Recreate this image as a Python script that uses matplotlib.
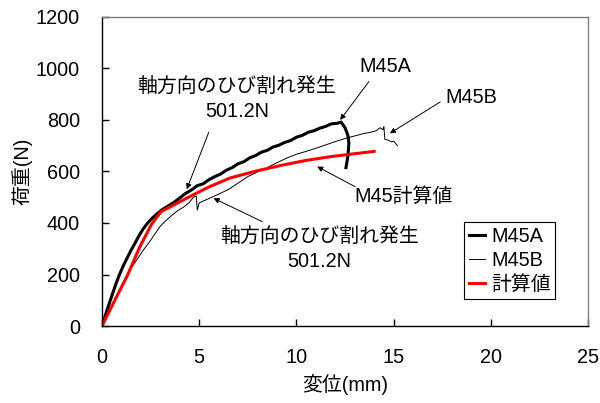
import matplotlib
matplotlib.use('Agg')
import matplotlib.pyplot as plt

plt.rcParams['font.family'] = ['Liberation Sans', 'Noto Sans CJK JP']

# M45A (thick black)
m45a_x = [0, 0.2, 0.45, 0.7, 0.9, 1.1, 1.3, 1.5, 1.7, 1.9, 2.1, 2.35, 2.6, 2.85, 3.1,
          3.4, 3.7, 4.0, 4.3, 4.6, 4.9, 5.2, 5.5, 5.8, 6.1, 6.4, 6.7, 7.0, 7.3, 7.6,
          7.9, 8.2, 8.5, 8.8, 9.1, 9.4, 9.7, 10.0, 10.3, 10.6, 10.9, 11.2, 11.5, 11.8,
          12.1, 12.3, 12.5, 12.65, 12.7, 12.65, 12.55]
m45a_y = [0, 48, 105, 160, 200, 235, 265, 295, 322, 350, 375, 400, 420, 437, 452,
          466, 480, 497, 515, 528, 545, 552, 568, 580, 590, 605, 615, 630, 638, 653,
          662, 675, 682, 695, 702, 713, 720, 733, 740, 752, 758, 768, 775, 785,
          787, 792, 770, 740, 710, 660, 615]

# M45B (thin black)
m45b_x = [0, 0.3, 0.6, 0.9, 1.2, 1.5, 1.8, 2.1, 2.4, 2.7, 3.0, 3.3, 3.6, 3.9, 4.2,
          4.5, 4.7, 4.85, 4.9, 5.0, 5.5, 6.0, 6.5, 7.0, 7.5, 8.0, 8.5, 9.0, 9.5, 10.0,
          10.5, 11.0, 11.5, 12.0, 12.5, 13.0, 13.5, 13.8, 14.1, 14.3, 14.45, 14.5,
          14.55, 14.7, 14.9, 15.0, 15.2]
m45b_y = [0, 45, 92, 140, 185, 225, 258, 292, 322, 355, 388, 410, 430, 448, 462,
          480, 500, 505, 450, 478, 495, 512, 530, 555, 580, 598, 615, 634, 652, 667,
          678, 690, 703, 716, 728, 738, 748, 752, 758, 770, 762, 775,
          725, 722, 715, 718, 700]

# calculated values (red)
calc_x = [0, 0.66, 1.3, 1.95, 2.55, 3.05, 3.5, 4.5, 5.5, 6.6, 8.0, 9.3, 10.5, 11.8, 13.0, 14.0]
calc_y = [0, 100, 195, 308, 395, 445, 462, 502, 540, 575, 603, 625, 643, 658, 669, 678]

x_ticks = [0, 5, 10, 15, 20, 25]
y_ticks = [0, 200, 400, 600, 800, 1000, 1200]

fs = 14.3

fig = plt.figure(figsize=(6, 4.03), dpi=100)
ax = fig.add_axes([0.17, 0.191, 0.81, 0.767])

ax.plot(m45a_x, m45a_y, color='black', lw=2.2, label='M45A')
ax.plot(m45b_x, m45b_y, color='black', lw=0.7, label='M45B')
ax.plot(calc_x, calc_y, color='red', lw=2.2, label='計算値')

ax.set_xlim(0, 25)
ax.set_ylim(0, 1200)
ax.set_xticks(x_ticks)
ax.set_yticks(y_ticks)
ax.tick_params(axis='both', direction='in', labelsize=fs, length=5, width=1)
ax.tick_params(axis='x', pad=16)
ax.tick_params(axis='y', pad=16)
for s in ['top', 'right']:
    ax.spines[s].set_color('#808080')
for s in ax.spines.values():
    s.set_linewidth(1)

ax.set_xlabel('変位(mm)', fontsize=fs, labelpad=5)
ax.set_ylabel('荷重(N)', fontsize=fs, labelpad=2)

arrow = dict(arrowstyle='-|>', color='black', lw=0.7, mutation_scale=8,
             shrinkA=0, shrinkB=0)

# text labels
ax.text(6.95, 880, '軸方向のひび割れ発生\n501.2N', ha='center', va='center',
        fontsize=fs, linespacing=1.3)
ax.text(11.2, 297, '軸方向のひび割れ発生\n501.2N', ha='center', va='center',
        fontsize=fs, linespacing=1.3)
ax.text(14.57, 1006, 'M45A', ha='center', va='center', fontsize=fs)
ax.text(19.0, 889, 'M45B', ha='center', va='center', fontsize=fs)
ax.text(15.5, 505, 'M45計算値', ha='center', va='center', fontsize=fs)

# arrows
ax.annotate('', xy=(4.36, 531), xytext=(5.49, 752), arrowprops=arrow)
ax.annotate('', xy=(5.74, 496), xytext=(8.25, 405), arrowprops=arrow)
ax.annotate('', xy=(12.25, 800), xytext=(13.73, 949), arrowprops=arrow)
ax.annotate('', xy=(14.81, 748), xytext=(17.4, 870), arrowprops=arrow)
ax.annotate('', xy=(11.07, 619), xytext=(13.02, 541), arrowprops=arrow)

leg = ax.legend(loc='upper left', bbox_to_anchor=(0.745, 0.337), borderaxespad=0,
                fontsize=fs, fancybox=False, framealpha=1, edgecolor='black',
                handlelength=0.8, handletextpad=0.3, labelspacing=0.25,
                borderpad=0.25)
leg.get_frame().set_linewidth(0.8)

fig.savefig('out.png', dpi=100)
